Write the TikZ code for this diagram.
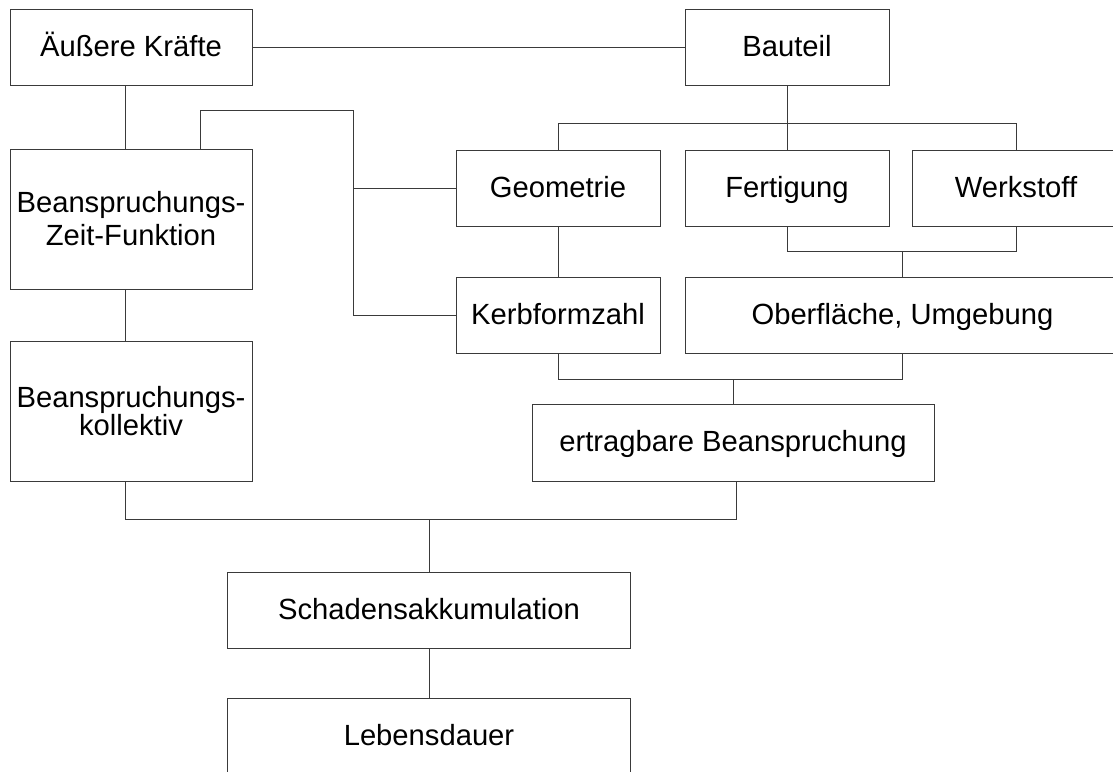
\documentclass[tikz,border=0pt]{standalone}
\usepackage{fontspec}
\setmainfont{Liberation Sans}
\usetikzlibrary{calc}
\definecolor{Rahmen}{HTML}{3A3A3A}
\tikzset{
 basis/.style={draw=Rahmen,line width=.7pt,fill=white,align=center,inner sep=2pt},
 kasten/.style={basis,font=\fontsize{21.9}{26}\selectfont,minimum height=57pt,text height=16pt,text depth=2pt},
 hochkasten/.style={basis,minimum height=105pt},
 linie/.style={draw=Rahmen,line width=.7pt}
}
\begin{document}
\begin{tikzpicture}[x=.75pt,y=-.75pt]
\useasboundingbox (0,0) rectangle (1113,771);
\node[kasten,minimum width=181.5pt] (aussen) at (131,47) {Äußere Kräfte};
\node[kasten,minimum width=153pt] (bauteil) at (787,47) {Bauteil};
\node[hochkasten,minimum width=181.5pt,font=\fontsize{21.9}{24.75}\selectfont] (bzf) at (131,219) {Beanspruchungs-\\Zeit-Funktion};
\node[hochkasten,minimum width=181.5pt,font=\fontsize{21.9}{20.8}\selectfont] (kollektiv) at (131,411) {Beanspruchungs-\\kollektiv};
\node[kasten,minimum width=153pt] (geometrie) at (558,188) {Geometrie};
\node[kasten,minimum width=153pt] (fertigung) at (787,188) {Fertigung};
\node[kasten,minimum width=156pt] (werkstoff) at (1016,188) {Werkstoff};
\node[kasten,minimum width=153pt] (kerb) at (558,315) {Kerbformzahl};
\node[kasten,minimum width=326.25pt] (oberflaeche) at (902.5,315) {Oberfläche, Umgebung};
\node[kasten,minimum width=301.5pt,minimum height=57.75pt] (ertragbar) at (733,442.5) {ertragbare Beanspruchung};
\node[kasten,minimum width=302pt] (schaden) at (429,610) {Schadensakkumulation};
\node[kasten,minimum width=302pt,minimum height=57.75pt] (leben) at (429,736.5) {Lebensdauer};
\coordinate (knick) at (353,110);
\draw[linie] (aussen.east) -- (bauteil.west);
\draw[linie] ($(aussen.south)+(-6,0)$) -- ($(bzf.north)+(-6,0)$);
\draw[linie] ($(bzf.south)+(-6,0)$) -- ($(kollektiv.north)+(-6,0)$);
\draw[linie] ($(bzf.north)+(69,0)$) |- (knick) |- (kerb.west);
\draw[linie] (geometrie.west) -- (geometrie.west -| knick);
\draw[linie] (bauteil.south) -- (fertigung.north);
\draw[linie] (geometrie.north) -- ++(0,-26) -| (werkstoff.north);
\draw[linie] (fertigung.south) -- ++(0,25) -| (werkstoff.south);
\draw[linie] (oberflaeche.north) -- ++(0,-26);
\draw[linie] (geometrie.south) -- (kerb.north);
\draw[linie] (kerb.south) -- ++(0,26) -| (oberflaeche.south);
\draw[linie] (ertragbar.north) -- ++(0,-25);
\draw[linie] ($(kollektiv.south)+(-6,0)$) -- ++(0,38) -| ($(ertragbar.south)+(3,0)$);
\draw[linie] (schaden.north) -- ++(0,-53);
\draw[linie] (schaden.south) -- (leben.north);
\end{tikzpicture}
\end{document}
